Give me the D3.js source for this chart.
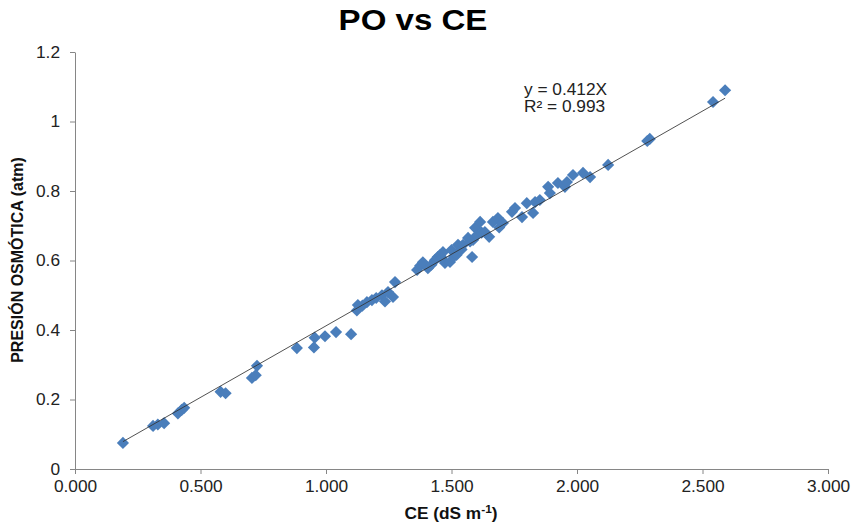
<!DOCTYPE html>
<html lang="es"><head><meta charset="UTF-8">
	<title>PO vs CE</title>
	<script src="https://d3js.org/d3.v7.min.js"></script>
	<style type="text/css">
		body { margin: 0; background: #fff; }
		text { font-family: "Liberation Sans", Arial, sans-serif; }
	</style>
</head>
<body>
	<script type="text/javascript">

		var w = 851;
		var h = 527;

		var margin = {top: 52, right: 23, bottom: 58, left: 75};
		var width = w - margin.left - margin.right;
		var height = h - margin.top - margin.bottom;

		// CE (dS m-1) and PO (atm)
		var ceValues = [0.191, 0.311, 0.330, 0.355, 0.410, 0.425, 0.435, 0.580, 0.600, 0.705,
			0.720, 0.725, 0.884, 0.952, 0.955, 0.996, 1.040, 1.100, 1.123, 1.127,
			1.145, 1.163, 1.183, 1.200, 1.223, 1.235, 1.247, 1.267, 1.275, 1.363,
			1.375, 1.386, 1.406, 1.420, 1.434, 1.445, 1.455, 1.462, 1.466, 1.474,
			1.494, 1.500, 1.510, 1.520, 1.526, 1.540, 1.546, 1.566, 1.574, 1.582,
			1.586, 1.594, 1.600, 1.614, 1.620, 1.633, 1.650, 1.665, 1.685, 1.690,
			1.705, 1.741, 1.753, 1.781, 1.800, 1.825, 1.833, 1.852, 1.885, 1.892,
			1.924, 1.952, 1.960, 1.984, 2.024, 2.052, 2.124, 2.280, 2.290, 2.542,
			2.590];
		var poValues = [0.075, 0.124, 0.128, 0.132, 0.160, 0.170, 0.176, 0.222, 0.218, 0.262,
			0.270, 0.297, 0.348, 0.350, 0.378, 0.382, 0.394, 0.388, 0.456, 0.472,
			0.470, 0.480, 0.486, 0.492, 0.500, 0.482, 0.509, 0.495, 0.538, 0.573,
			0.585, 0.595, 0.578, 0.588, 0.601, 0.610, 0.616, 0.607, 0.624, 0.593,
			0.596, 0.630, 0.612, 0.616, 0.645, 0.632, 0.645, 0.665, 0.655, 0.610,
			0.659, 0.694, 0.672, 0.711, 0.680, 0.682, 0.668, 0.711, 0.722, 0.695,
			0.708, 0.740, 0.751, 0.725, 0.765, 0.737, 0.768, 0.774, 0.812, 0.794,
			0.823, 0.812, 0.826, 0.846, 0.852, 0.840, 0.875, 0.944, 0.950, 1.056,
			1.090];

		var xTicks = [0, 0.5, 1, 1.5, 2, 2.5, 3];
		var xTickLabels = ["0.000", "0.500", "1.000", "1.500", "2.000", "2.500", "3.000"];
		var yTicks = [0, 0.2, 0.4, 0.6, 0.8, 1, 1.2];
		var yTickLabels = ["0", "0.2", "0.4", "0.6", "0.8", "1", "1.2"];

		var slope = 0.412;
		var r2 = 0.993;

		var dataset = ceValues.map(function(d, i) { return [d, poValues[i]]; });

		var xScale = d3.scaleLinear().domain([0, 3]).range([0, width]);
		var yScale = d3.scaleLinear().domain([0, 1.2]).range([height, 0]);

		var svg = d3.select("body")
					.append("svg")
					.attr("width", w)
					.attr("height", h);

		var g = svg.append("g")
					.attr("transform", "translate(" + margin.left + "," + margin.top + ")");

		//axes
		var xAxis = d3.axisBottom(xScale)
				.tickValues(xTicks)
				.tickFormat(function(d, i) { return xTickLabels[i]; })
				.tickSize(5).tickSizeOuter(0).tickPadding(7);
		var yAxis = d3.axisLeft(yScale)
				.tickValues(yTicks)
				.tickFormat(function(d, i) { return yTickLabels[i]; })
				.tickSize(5).tickSizeOuter(0).tickPadding(10);

		var gx = g.append("g").attr("transform", "translate(0," + height + ")").call(xAxis);
		var gy = g.append("g").call(yAxis);

		[gx, gy].forEach(function(a) {
			a.selectAll("path, line").attr("stroke", "#868686");
			a.selectAll("text")
			 .attr("font-size", "16px")
			 .attr("font-family", "'Liberation Sans', Arial, sans-serif")
			 .attr("fill", "#222");
		});

		var xMin = d3.min(ceValues), xMax = d3.max(ceValues);

		//points
		var diamond = d3.symbol().type(d3.symbolSquare).size(74);
		g.selectAll("path.pt")
		 .data(dataset)
		 .enter()
		 .append("path")
		 .attr("class", "pt")
		 .attr("d", diamond)
		 .attr("transform", function(d) {
		 	return "translate(" + xScale(d[0]) + "," + yScale(d[1]) + ") rotate(45)";
		 })
		 .attr("fill", "#4a7ebb");

		//trend line over the data range, drawn above the markers
		g.append("line")
		 .attr("x1", xScale(xMin)).attr("y1", yScale(slope * xMin))
		 .attr("x2", xScale(xMax)).attr("y2", yScale(slope * xMax))
		 .attr("stroke", "#333")
		 .attr("stroke-opacity", 0.85)
		 .attr("stroke-width", 1);

		//equation
		svg.append("text")
		   .attr("x", 524).attr("y", 95)
		   .attr("font-size", "16px").attr("fill", "#222")
		   .text("y = " + slope + "X");
		svg.append("text")
		   .attr("x", 524).attr("y", 112)
		   .attr("font-size", "16px").attr("fill", "#222")
		   .text("R² = " + r2);

		//title
		svg.append("text")
		   .attr("class", "title")
		   .attr("x", 413).attr("y", 30)
		   .attr("text-anchor", "middle")
		   .attr("font-size", "29px").attr("font-weight", "bold")
		   .attr("fill", "#000")
		   .text("PO vs CE");

		//axis titles
		var xl = svg.append("text")
		   .attr("x", 451).attr("y", 519)
		   .attr("text-anchor", "middle")
		   .attr("font-size", "16px").attr("font-weight", "bold")
		   .attr("fill", "#111");
		xl.append("tspan").text("CE (dS m");
		xl.append("tspan").attr("dy", -6).attr("font-size", "11px").text("-1");
		xl.append("tspan").attr("dy", 6).text(")");

		svg.append("text")
		   .attr("transform", "translate(23,260) rotate(-90)")
		   .attr("text-anchor", "middle")
		   .attr("font-size", "16px").attr("font-weight", "bold")
		   .attr("fill", "#111")
		   .text("PRESIÓN OSMÓTICA (atm)");

		// the source picture is a little wider than tall, stretch horizontal text
		svg.selectAll("text").each(function() {
			var t = d3.select(this);
			if (t.attr("transform") && t.attr("transform").indexOf("rotate") >= 0) return;
			var k = t.classed("title") ? 1.14 : 1.08;
			var len = this.getComputedTextLength();
			t.attr("textLength", len * k).attr("lengthAdjust", "spacingAndGlyphs");
		});

	</script>
</body>
</html>
